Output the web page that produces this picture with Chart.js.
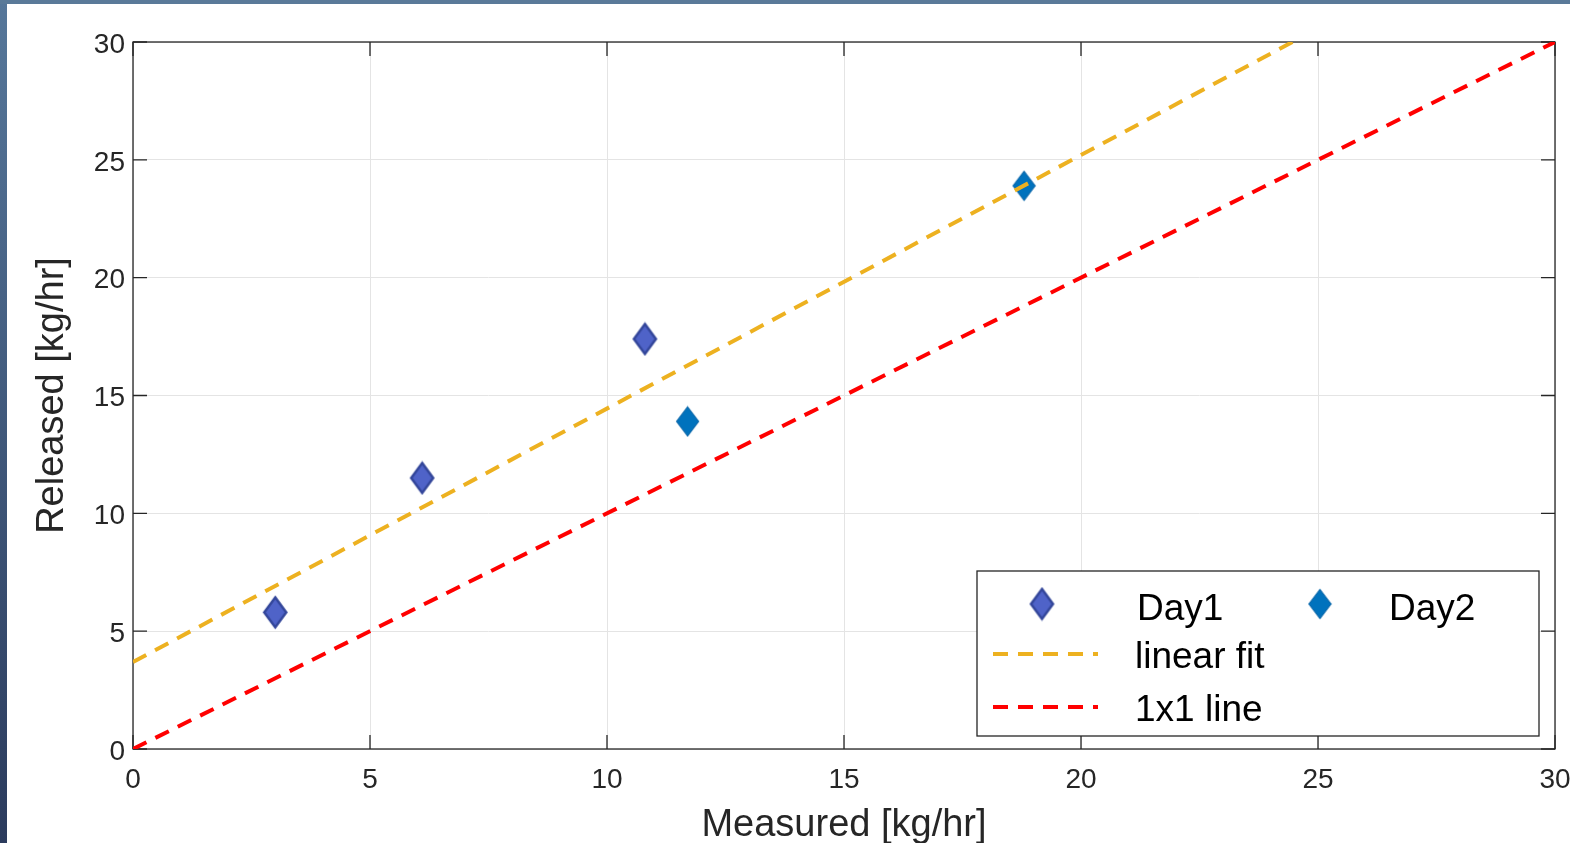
<!DOCTYPE html>
<html>
<head>
<meta charset="utf-8">
<script src="https://cdn.jsdelivr.net/npm/chart.js@4.4.1/dist/chart.umd.min.js"></script>
<style>
html, body { margin: 0; padding: 0; background: #fff; overflow: hidden; }
#wrap { position: relative; width: 1570px; height: 843px; overflow: hidden; background: #fff; }
#side { position: absolute; left: 0; top: 0; width: 7px; height: 843px; background: linear-gradient(#56779a, #2b3b5d); z-index: 2; }
#topbar { position: absolute; left: 0; top: 0; width: 1570px; height: 4px; background: #5a7a99; z-index: 2; }
#myChart { position: absolute; left: 0; top: 0; }
</style>
</head>
<body>
<div id="wrap">
  <div id="side"></div>
  <div id="topbar"></div>
  <canvas id="myChart" width="1570" height="843"></canvas>
</div>
<script>
// values
var day1X = [3.0, 6.1, 10.8];
var day1Y = [5.8, 11.5, 17.4];
var day2X = [11.7, 18.8];
var day2Y = [13.9, 23.9];
var fitX = [0, 24.46];
var fitY = [3.69, 30];
var oneX = [0, 30];
var oneY = [0, 30];
var tickVals = [0, 5, 10, 15, 20, 25, 30];
var labels = ['Day1', 'Day2', 'linear fit', '1x1 line'];

var FONT = "'Liberation Sans', Arial, sans-serif";
var INK = '#262626';
var DASH = [15, 10];

var toPoints = function(xs, ys) {
    return xs.map(function(x, i) { return {x: x, y: ys[i]}; });
};

// tall MATLAB style diamond marker
var makeDiamond = function(w, h, fill, stroke, lw) {
    var c = document.createElement('canvas');
    c.width = Math.ceil(w + lw * 2);
    c.height = Math.ceil(h + lw * 2);
    var g = c.getContext('2d');
    var cx = c.width / 2, cy = c.height / 2;
    g.beginPath();
    g.moveTo(cx, cy - h / 2);
    g.lineTo(cx + w / 2, cy);
    g.lineTo(cx, cy + h / 2);
    g.lineTo(cx - w / 2, cy);
    g.closePath();
    g.fillStyle = fill;
    g.fill();
    g.lineWidth = lw;
    g.strokeStyle = stroke;
    g.stroke();
    return c;
};

var mark1 = makeDiamond(22, 30, '#4f63c8', '#33469a', 2.5);
var mark2 = makeDiamond(22, 29, '#0072bd', '#0a68ab', 1.2);

var createScatter = function(label, xs, ys, img) {
    return {
        type: 'scatter',
        label: label,
        data: toPoints(xs, ys),
        pointStyle: img,
        pointRadius: 12,
        order: 5
    };
};

var createLine = function(label, xs, ys, color, ord) {
    return {
        type: 'line',
        label: label,
        data: toPoints(xs, ys),
        borderColor: color,
        borderWidth: 4,
        borderDash: DASH,
        pointRadius: 0,
        tension: 0,
        fill: false,
        order: ord
    };
};

// axes box with inward ticks, like MATLAB
var boxPlugin = {
    id: 'box',
    beforeDatasetsDraw: function(chart) {
        var a = chart.chartArea, ctx = chart.ctx;
        var sx = chart.scales.x, sy = chart.scales.y;
        ctx.save();
        ctx.strokeStyle = INK;
        ctx.lineWidth = 1.3;
        ctx.strokeRect(a.left, a.top, a.right - a.left, a.bottom - a.top);
        ctx.beginPath();
        tickVals.forEach(function(v) {
            var px = sx.getPixelForValue(v);
            ctx.moveTo(px, a.bottom); ctx.lineTo(px, a.bottom - 14);
            ctx.moveTo(px, a.top); ctx.lineTo(px, a.top + 14);
            var py = sy.getPixelForValue(v);
            ctx.moveTo(a.left, py); ctx.lineTo(a.left + 14, py);
            ctx.moveTo(a.right, py); ctx.lineTo(a.right - 14, py);
        });
        ctx.stroke();
        ctx.restore();
    }
};

// legend laid out like the original (two markers on row one)
var legendPlugin = {
    id: 'matLegend',
    afterDraw: function(chart) {
        var ctx = chart.ctx;
        var ds = chart.data.datasets;
        ctx.save();
        ctx.fillStyle = '#fff';
        ctx.fillRect(977, 571, 562, 165);
        ctx.strokeStyle = INK;
        ctx.lineWidth = 1.3;
        ctx.strokeRect(977, 571, 562, 165);

        ctx.font = '37px ' + FONT;
        ctx.fillStyle = '#000';
        ctx.textBaseline = 'alphabetic';

        ctx.drawImage(ds[0].pointStyle, 1042 - ds[0].pointStyle.width / 2, 604 - ds[0].pointStyle.height / 2);
        ctx.fillText(ds[0].label, 1137, 620);
        ctx.drawImage(ds[1].pointStyle, 1320 - ds[1].pointStyle.width / 2, 604 - ds[1].pointStyle.height / 2);
        ctx.fillText(ds[1].label, 1389, 620);

        [[ds[2], 654, 668], [ds[3], 707, 721]].forEach(function(r) {
            ctx.beginPath();
            ctx.strokeStyle = r[0].borderColor;
            ctx.lineWidth = 4;
            ctx.setLineDash(DASH);
            ctx.moveTo(993, r[1]);
            ctx.lineTo(1098, r[1]);
            ctx.stroke();
            ctx.setLineDash([]);
            ctx.fillText(r[0].label, 1135, r[2]);
        });
        ctx.restore();
    }
};

var ctx = document.getElementById('myChart');

new Chart(ctx, {
    data: {
        datasets: [
            createScatter(labels[0], day1X, day1Y, mark1),
            createScatter(labels[1], day2X, day2Y, mark2),
            createLine(labels[2], fitX, fitY, '#edb120', 1),
            createLine(labels[3], oneX, oneY, '#ff0000', 2)
        ]
    },
    options: {
        responsive: false,
        animation: false,
        layout: { padding: { left: 0, top: 42, right: 15, bottom: 0 } },
        plugins: {
            legend: { display: false },
            tooltip: { enabled: false }
        },
        scales: {
            x: {
                type: 'linear',
                min: 0,
                max: 30,
                afterBuildTicks: function(s) { s.ticks = tickVals.map(function(v) { return {value: v}; }); },
                afterFit: function(s) { s.height = 94; s.paddingLeft = 0; s.paddingRight = 0; },
                grid: { color: '#e4e4e4', lineWidth: 1, drawTicks: false },
                border: { display: false },
                ticks: { color: INK, font: { family: FONT, size: 28 }, padding: 14, maxRotation: 0 },
                title: {
                    display: true,
                    text: 'Measured [kg/hr]',
                    color: INK,
                    font: { family: FONT, size: 38 },
                    padding: { top: 0, bottom: -5 }
                }
            },
            y: {
                type: 'linear',
                min: 0,
                max: 30,
                afterBuildTicks: function(s) { s.ticks = tickVals.map(function(v) { return {value: v}; }); },
                afterFit: function(s) { s.width = 133; s.paddingTop = 0; s.paddingBottom = 0; },
                grid: { color: '#e4e4e4', lineWidth: 1, drawTicks: false },
                border: { display: false },
                ticks: { color: INK, font: { family: FONT, size: 28 }, padding: 8, labelOffset: 3 },
                title: {
                    display: true,
                    text: 'Released [kg/hr]',
                    color: INK,
                    font: { family: FONT, size: 38 },
                    padding: { top: 30, bottom: 0 }
                }
            }
        }
    },
    plugins: [boxPlugin, legendPlugin]
});
</script>
</body>
</html>
